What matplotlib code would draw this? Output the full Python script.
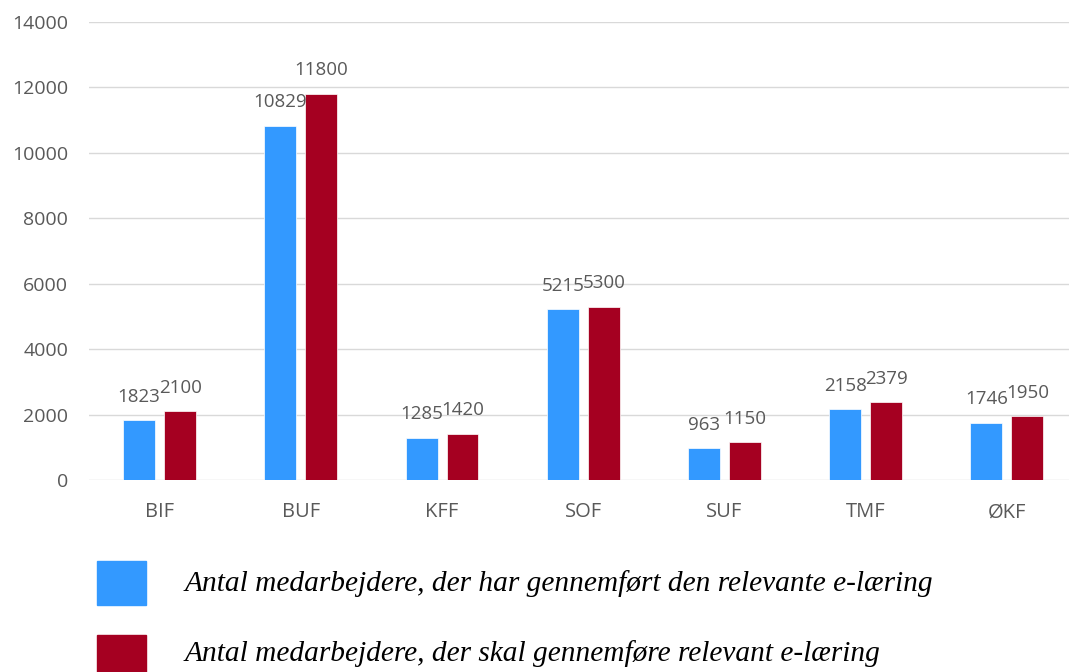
import matplotlib.pyplot as plt
import numpy as np
from matplotlib.patches import Rectangle

categories = ['BIF', 'BUF', 'KFF', 'SOF', 'SUF', 'TMF', 'ØKF']
done = [1823, 10829, 1285, 5215, 963, 2158, 1746]
required = [2100, 11800, 1420, 5300, 1150, 2379, 1950]
legend_labels = ['Antal medarbejdere, der har gennemført den relevante e-læring',
                 'Antal medarbejdere, der skal gennemføre relevant e-læring']

blue = '#3399FF'
red = '#A50021'
grey = '#595959'

fig = plt.figure(figsize=(10.69, 6.72), dpi=100)
ax = fig.add_axes([89/1069, 1-480/672, 1-89/1069, (480-22)/672])

x = np.arange(len(categories))
w = 0.226
b1 = ax.bar(x - 0.145, done, w, color=blue, edgecolor='white', linewidth=0.5, zorder=3)
b2 = ax.bar(x + 0.145, required, w, color=red, edgecolor='white', linewidth=0.5, zorder=3)

for bars, vals in [(b1, done), (b2, required)]:
    for r, v in zip(bars, vals):
        ax.annotate(str(v), (r.get_x() + r.get_width()/2, v), xytext=(0, 17),
                    textcoords='offset points', ha='center', va='center',
                    fontsize=13.5, color=grey, family='Open Sans')

ax.set_ylim(0, 14000)
ax.set_xlim(-0.5, 6.44)
ax.set_yticks(range(0, 14001, 2000))
ax.set_xticks(x)
ax.set_xticklabels(categories)
ax.grid(axis='y', color='#d9d9d9', linewidth=1, zorder=0)
for s in ax.spines.values():
    s.set_visible(False)
ax.tick_params(length=0, colors=grey, labelsize=14.5)
ax.tick_params(axis='y', pad=15, labelsize=14)
ax.tick_params(axis='x', pad=16)
for t in ax.get_xticklabels() + ax.get_yticklabels():
    t.set_family('Open Sans')

# legend drawn below the chart
for (y0, y1), ty, c, lab in [((561, 605), 584, blue, legend_labels[0]),
                             ((635, 680), 654, red, legend_labels[1])]:
    fig.patches.append(Rectangle((97/1069, 1-y1/672), 49/1069, (y1-y0)/672,
                                 transform=fig.transFigure, color=c, figure=fig))
    fig.text(185/1069, 1-ty/672, lab, family='Liberation Serif', style='italic',
             fontsize=21.2, va='center', ha='left', color='black')

fig.savefig('out.png', dpi=100)
